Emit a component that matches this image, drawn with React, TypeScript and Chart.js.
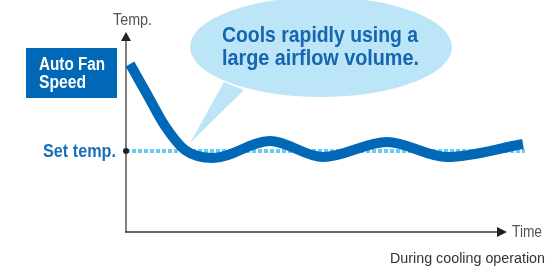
import React, { useEffect, useRef } from "react";
import { Chart, registerables } from "chart.js";

Chart.register(...registerables);

// ---- data ----
const timeValues = [1, 5.5, 9.75, 14.75, 21.75, 36, 49.25, 65.25, 80.25, 99.25];
const tempValues = [84, 68, 53, 41, 37, 45.5, 37.5, 45, 37.5, 44];
const setTemp = 40.5;
const setTempRange = [0, 99.75];
const timeAxisEnd = 95.25;

const yAxisTitle = "Temp.";
const xAxisTitle = "Time";
const footnote = "During cooling operation";
const setTempLabel = "Set temp.";
const fanLabel = ["Auto Fan", "Speed"];
const bubbleText = ["Cools rapidly using a", "large airflow volume."];

const BLUE = "#0068b7";
const BUBBLE = "#bde5f8";

function fitText(
  ctx: CanvasRenderingContext2D,
  text: string,
  left: number,
  baseline: number,
  width: number,
  font: string,
  color: string
) {
  ctx.save();
  ctx.font = font;
  ctx.fillStyle = color;
  ctx.textAlign = "left";
  ctx.textBaseline = "alphabetic";
  const w = ctx.measureText(text).width;
  ctx.translate(left, baseline);
  ctx.scale(width / w, 1);
  ctx.fillText(text, 0, 0);
  ctx.restore();
}

const decor = {
  id: "decor",
  beforeDatasetsDraw(chart: any) {
    const ctx: CanvasRenderingContext2D = chart.ctx;
    const { left, top, bottom } = chart.chartArea;
    const xs = chart.scales.x;
    const ys = chart.scales.y;
    ctx.save();
    // speech bubble
    ctx.fillStyle = BUBBLE;
    ctx.beginPath();
    ctx.ellipse(321, 47, 131, 50, 0, 0, Math.PI * 2);
    ctx.fill();
    ctx.beginPath();
    ctx.moveTo(224, 82);
    ctx.lineTo(190, 143);
    ctx.lineTo(244, 90);
    ctx.closePath();
    ctx.fill();

    // y axis
    ctx.strokeStyle = "#808080";
    ctx.lineWidth = 2;
    ctx.beginPath();
    ctx.moveTo(left, top + 6);
    ctx.lineTo(left, bottom);
    ctx.stroke();
    ctx.fillStyle = "#222";
    ctx.beginPath();
    ctx.moveTo(left, top);
    ctx.lineTo(left - 5, top + 9);
    ctx.lineTo(left + 5, top + 9);
    ctx.closePath();
    ctx.fill();

    // x axis
    const xEnd = xs.getPixelForValue(timeAxisEnd);
    ctx.strokeStyle = "#333";
    ctx.lineWidth = 1.6;
    ctx.beginPath();
    ctx.moveTo(left - 1, bottom);
    ctx.lineTo(xEnd - 6, bottom);
    ctx.stroke();
    ctx.fillStyle = "#222";
    ctx.beginPath();
    ctx.moveTo(xEnd, bottom);
    ctx.lineTo(xEnd - 10, bottom - 5);
    ctx.lineTo(xEnd - 10, bottom + 5);
    ctx.closePath();
    ctx.fill();

    // fan box
    ctx.fillStyle = BLUE;
    ctx.fillRect(26, 48, 91, 50);
    ctx.restore();

    const bold = (s: number) => `bold ${s}px "Liberation Sans", Arial, sans-serif`;
    const reg = (s: number) => `${s}px "Liberation Sans", Arial, sans-serif`;

    fitText(ctx, fanLabel[0], 39, 69.5, 66, bold(18), "#ffffff");
    fitText(ctx, fanLabel[1], 39, 87.5, 47, bold(18), "#ffffff");

    fitText(ctx, bubbleText[0], 222, 41.5, 196, bold(22), "#1565b0");
    fitText(ctx, bubbleText[1], 222, 64.5, 197, bold(22), "#1565b0");

    fitText(ctx, yAxisTitle, 113, 25, 39, reg(17), "#555");
    fitText(ctx, xAxisTitle, 512, 237, 30, reg(17), "#555");
    fitText(ctx, footnote, 390, 263, 155, reg(15.5), "#333");

    const yst = ys.getPixelForValue(setTemp);
    fitText(ctx, setTempLabel, 43, yst + 5.5, 73, bold(19), "#1a6fba");
  },
};

export default function App() {
  const ref = useRef<HTMLCanvasElement | null>(null);
  useEffect(() => {
    if (!ref.current) return;
    const chart = new Chart(ref.current, {
      type: "line",
      data: {
        datasets: [
          {
            data: timeValues.map((t, i) => ({ x: t, y: tempValues[i] })),
            borderColor: BLUE,
            borderWidth: 10,
            cubicInterpolationMode: "monotone",
            pointRadius: 0,
            borderCapStyle: "butt",
            clip: false,
            order: 0,
          } as any,
          {
            data: setTempRange.map((t) => ({ x: t, y: setTemp })),
            borderColor: "#67cdf5",
            borderWidth: 4,
            borderDash: [4, 2],
            pointRadius: [3, 0],
            pointBackgroundColor: "#222",
            pointBorderWidth: 0,
            clip: false,
            order: 1,
          } as any,
        ],
      },
      options: {
        animation: false,
        responsive: false,
        layout: { padding: { left: 126, right: 22, top: 32, bottom: 36 } },
        plugins: { legend: { display: false }, tooltip: { enabled: false } },
        scales: {
          x: { type: "linear", min: 0, max: 100, display: false },
          y: { type: "linear", min: 0, max: 100, display: false },
        },
      },
      plugins: [decor],
    });
    return () => chart.destroy();
  }, []);
  return (
    <div style={{ position: "fixed", left: 0, top: 0, width: 548, height: 268, background: "#fff" }}>
      <canvas ref={ref} width={548} height={268} />
    </div>
  );
}
